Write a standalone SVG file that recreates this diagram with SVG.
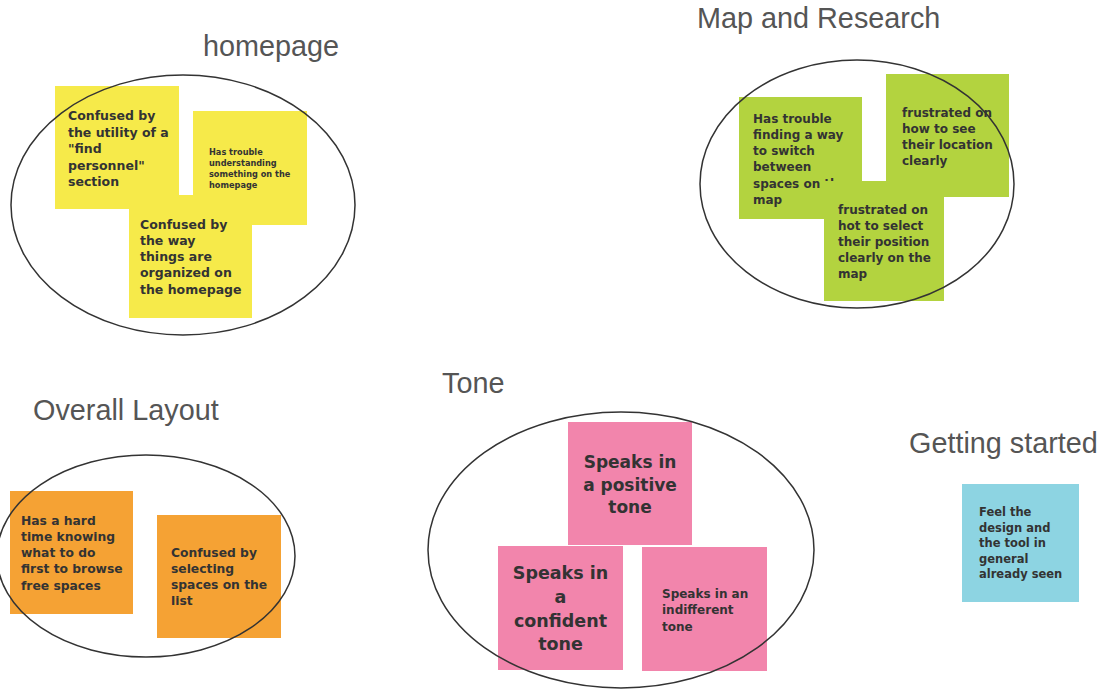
<svg xmlns="http://www.w3.org/2000/svg" width="1099" height="691" viewBox="0 0 1099 691">
<style>
.title{font-family:"Liberation Sans",Arial,sans-serif;font-size:28.8px;fill:#555555}
.t{font-family:"DejaVu Sans",sans-serif;font-weight:bold;fill:#333333}
.ring{fill:none;stroke:#333333;stroke-width:1.5}
.y{fill:#f6ea4a}.g{fill:#b3d33f}.o{fill:#f5a234}.p{fill:#f285ac}.b{fill:#8dd4e2}
</style>
<rect width="1099" height="691" fill="#ffffff"/>

<g id="group-homepage">
<text class="title" x="203" y="56">homepage</text>
<g id="note-find-personnel">
<rect class="y" x="55" y="86" width="124" height="123"/>
<text class="t" font-size="12.5"><tspan x="68" y="120">Confused by</tspan><tspan x="68" y="136.5">the utility of a</tspan><tspan x="68" y="153">"find</tspan><tspan x="68" y="169.5">personnel"</tspan><tspan x="68" y="186">section</tspan></text>
</g>
<g id="note-understanding">
<rect class="y" x="193" y="111" width="114" height="114"/>
<text class="t" font-size="8.2"><tspan x="209" y="155">Has trouble</tspan><tspan x="209" y="166">understanding</tspan><tspan x="209" y="177">something on the</tspan><tspan x="209" y="188">homepage</tspan></text>
</g>
<g id="note-organized">
<rect class="y" x="129" y="195" width="123" height="123"/>
<text class="t" font-size="12.5"><tspan x="140" y="228.5">Confused by</tspan><tspan x="140" y="244.8">the way</tspan><tspan x="140" y="261.1">things are</tspan><tspan x="140" y="277.4">organized on</tspan><tspan x="140" y="293.7">the homepage</tspan></text>
</g>
<ellipse class="ring" cx="183" cy="205" rx="172" ry="130"/>
</g>

<g id="group-map">
<text class="title" x="697" y="28">Map and Research</text>
<g id="note-switch">
<rect class="g" x="739" y="97" width="123" height="122"/>
<text class="t" font-size="12"><tspan x="753" y="122.5">Has trouble</tspan><tspan x="753" y="138.8">finding a way</tspan><tspan x="753" y="155.1">to switch</tspan><tspan x="753" y="171.4">between</tspan><tspan x="753" y="187.7">spaces on the</tspan><tspan x="753" y="204">map</tspan></text>
</g>
<g id="note-location">
<rect class="g" x="886" y="74" width="123" height="123"/>
<text class="t" font-size="12"><tspan x="902" y="116.5">frustrated on</tspan><tspan x="902" y="132.6">how to see</tspan><tspan x="902" y="148.7">their location</tspan><tspan x="902" y="164.8">clearly</tspan></text>
</g>
<g id="note-position">
<rect class="g" x="824" y="181" width="120" height="120"/>
<text class="t" font-size="12"><tspan x="838" y="213.5">frustrated on</tspan><tspan x="838" y="229.5">hot to select</tspan><tspan x="838" y="245.5">their position</tspan><tspan x="838" y="261.5">clearly on the</tspan><tspan x="838" y="277.5">map</tspan></text>
</g>
<ellipse class="ring" cx="857" cy="184" rx="157" ry="124"/>
</g>

<g id="group-layout">
<text class="title" x="33" y="420">Overall Layout</text>
<g id="note-browse">
<rect class="o" x="10" y="491" width="123" height="123"/>
<text class="t" font-size="12.3"><tspan x="21" y="524.5">Has a hard</tspan><tspan x="21" y="540.8">time knowing</tspan><tspan x="21" y="557.1">what to do</tspan><tspan x="21" y="573.4">first to browse</tspan><tspan x="21" y="589.7">free spaces</tspan></text>
</g>
<g id="note-selecting">
<rect class="o" x="157" y="515" width="124" height="123"/>
<text class="t" font-size="12.3"><tspan x="171" y="556.5">Confused by</tspan><tspan x="171" y="572.8">selecting</tspan><tspan x="171" y="589.1">spaces on the</tspan><tspan x="171" y="605.4">list</tspan></text>
</g>
<ellipse class="ring" cx="146" cy="556" rx="149" ry="101"/>
</g>

<g id="group-tone">
<text class="title" x="442" y="393">Tone</text>
<g id="note-positive">
<rect class="p" x="568" y="422" width="124" height="123"/>
<text class="t" font-size="17" text-anchor="middle"><tspan x="630" y="468">Speaks in</tspan><tspan x="630" y="491">a positive</tspan><tspan x="630" y="513">tone</tspan></text>
</g>
<g id="note-confident">
<rect class="p" x="498" y="546" width="125" height="124"/>
<text class="t" font-size="17.5" text-anchor="middle"><tspan x="560.5" y="579">Speaks in</tspan><tspan x="560.5" y="603">a</tspan><tspan x="560.5" y="627">confident</tspan><tspan x="560.5" y="650">tone</tspan></text>
</g>
<g id="note-indifferent">
<rect class="p" x="642" y="547" width="125" height="124"/>
<text class="t" font-size="12"><tspan x="662" y="597.5">Speaks in an</tspan><tspan x="662" y="614">indifferent</tspan><tspan x="662" y="630.5">tone</tspan></text>
</g>
<ellipse class="ring" cx="621" cy="550" rx="193" ry="138"/>
</g>

<g id="group-getting-started">
<text class="title" x="909" y="453">Getting started</text>
<g id="note-feel">
<rect class="b" x="962" y="484" width="117" height="118"/>
<text class="t" font-size="11.5"><tspan x="979" y="516">Feel the</tspan><tspan x="979" y="531.6">design and</tspan><tspan x="979" y="547.2">the tool in</tspan><tspan x="979" y="562.8">general</tspan><tspan x="979" y="578.4">already seen</tspan></text>
</g>
</g>

<g id="connectors"></g>
</svg>
